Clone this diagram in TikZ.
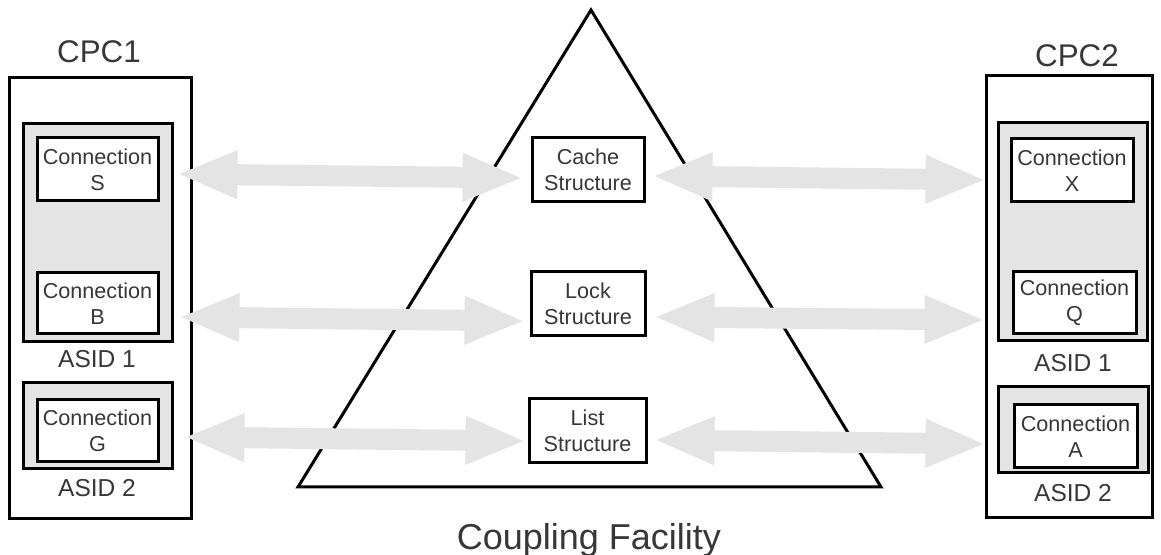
\documentclass[tikz,border=0pt]{standalone}
\usepackage{fontspec}
\setmainfont{Liberation Sans}
\usetikzlibrary{arrows.meta}
\definecolor{agray}{RGB}{228,228,228}
\definecolor{txt}{RGB}{55,55,55}
\tikzset{
  box/.style={draw=black, line width=2.25pt, inner sep=0pt, text=txt, align=center},
  outerbox/.style={box, fill=white},
  graybox/.style={box, fill=agray},
  connbox/.style={box, fill=white, font=\fontsize{16.2}{19.5}\selectfont},
  lbl/.style={inner sep=0pt, text=txt},
  biarrow/.style={draw=agray, line width=15.75pt,
    {Triangle[length=45.75pt,width=33pt]}-{Triangle[length=45.75pt,width=33pt]}},
}
\begin{document}
\begin{tikzpicture}[x=0.75pt,y=-0.75pt]
\useasboundingbox (0,0) rectangle (1161,555);
% triangle
\coordinate (apex) at (591,10);
\coordinate (bl) at (298,487);
\coordinate (br) at (881,487);
\draw[line width=2.25pt, line join=miter] (apex) -- (bl) -- (br) -- cycle;
\node[lbl, font=\fontsize{27}{30}\selectfont] (cf) at (589,540) {Coupling Facility};
% CPC1
\node[outerbox, minimum width=136.5pt, minimum height=330.75pt] (cpc1) at (100,298.5) {};
\node[lbl, font=\fontsize{23.5}{26}\selectfont] (cpc1lbl) at (99,52) {CPC1};
\node[graybox, minimum width=111.75pt, minimum height=163.5pt] (l1) at (97.5,233) {};
\node[connbox, minimum width=90.75pt, minimum height=47.25pt] (S) at (97.5,169.5) {Connection\\S};
\node[connbox, minimum width=90.75pt, minimum height=45.75pt] (B) at (97.5,303.5) {Connection\\B};
\node[lbl, font=\fontsize{18.4}{22}\selectfont] (l1lbl) at (97,359) {ASID 1};
\node[graybox, minimum width=111.75pt, minimum height=64.5pt] (l2) at (97.5,426) {};
\node[connbox, minimum width=90.75pt, minimum height=46.5pt] (G) at (97.5,431) {Connection\\G};
\node[lbl, font=\fontsize{18.4}{22}\selectfont] (l2lbl) at (97,488) {ASID 2};
% CPC2
\node[outerbox, minimum width=124.5pt, minimum height=331.5pt] (cpc2) at (1069,297) {};
\node[lbl, font=\fontsize{23.5}{26}\selectfont] (cpc2lbl) at (1077,56) {CPC2};
\node[graybox, minimum width=111.75pt, minimum height=163.5pt] (r1) at (1072.5,232) {};
\node[connbox, minimum width=91.5pt, minimum height=47.25pt] (X) at (1072,170.5) {Connection\\X};
\node[connbox, minimum width=92.25pt, minimum height=46.5pt] (Q) at (1074.5,303) {Connection\\Q};
\node[lbl, font=\fontsize{18.4}{22}\selectfont] (r1lbl) at (1073,363) {ASID 1};
\node[graybox, minimum width=112.5pt, minimum height=64.5pt] (r2) at (1073,430) {};
\node[connbox, minimum width=92.25pt, minimum height=47.25pt] (A) at (1075.5,436.5) {Connection\\A};
\node[lbl, font=\fontsize{18.4}{22}\selectfont] (r2lbl) at (1073,493) {ASID 2};
% structures
\node[connbox, minimum width=84pt, minimum height=48pt] (cache) at (588,170) {Cache\\Structure};
\node[connbox, minimum width=85.5pt, minimum height=48pt] (lock) at (588,304) {Lock\\Structure};
\node[connbox, minimum width=87.75pt, minimum height=48pt] (list) at (587.5,431) {List\\Structure};
% arrows
\draw[biarrow] ([shift={(17,4.5)}]S.east) -- ([shift={(-7,8)}]cache.west);
\draw[biarrow] ([shift={(6,6)}]cache.east) -- ([shift={(-23,9.5)}]X.west);
\draw[biarrow] ([shift={(19,13.5)}]B.east) -- ([shift={(-4,17)}]lock.west);
\draw[biarrow] ([shift={(7,13)}]lock.east) -- ([shift={(-26,17)}]Q.west);
\draw[biarrow] ([shift={(24,6)}]G.east) -- ([shift={(-1,10)}]list.west);
\draw[biarrow] ([shift={(6,9)}]list.east) -- ([shift={(-26,7.5)}]A.west);
\end{tikzpicture}
\end{document}
